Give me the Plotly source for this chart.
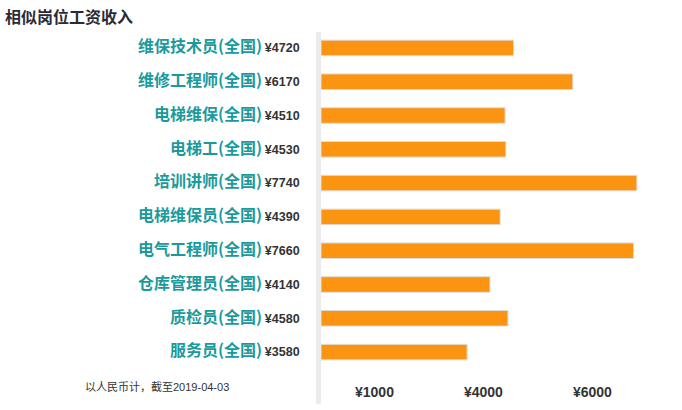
import plotly.graph_objects as go

categories = ["维保技术员(全国)", "维修工程师(全国)", "电梯维保(全国)", "电梯工(全国)", "培训讲师(全国)",
              "电梯维保员(全国)", "电气工程师(全国)", "仓库管理员(全国)", "质检员(全国)", "服务员(全国)"]
salaries = [4720, 6170, 4510, 4530, 7740, 4390, 7660, 4140, 4580, 3580]
tick_labels = ["¥1000", "¥4000", "¥6000"]
tick_positions = [1310, 3980, 6650]
title_text = "相似岗位工资收入"
note_text = "以人民币计，截至2019-04-03"

ML, MT, MB = 321, 31, 39
W, H = 682, 410
PW = 351
MR = W - ML - PW
PH = H - MT - MB

ticktext = [
    f"<b style='color:#1a9a9c;font-size:16px'>{c}</b> "
    f"<b style='color:#333333;font-size:12.5px;font-family:Liberation Sans, Arial, sans-serif'>¥{v}</b>"
    for c, v in zip(categories, salaries)
]

fig = go.Figure(go.Bar(
    x=salaries, y=categories, orientation="h",
    marker=dict(color="#FA9411", line=dict(color="#dddddd", width=1)),
    hoverinfo="x+y",
))

def px_x(p):
    return (p - ML) / PW

def px_y(p):
    return (H - MB - p) / PH

fig.update_layout(
    width=W, height=H,
    margin=dict(l=ML, r=MR, t=MT, b=MB),
    paper_bgcolor="white", plot_bgcolor="white",
    bargap=0.54,
    showlegend=False,
    font=dict(family="Noto Sans CJK SC, sans-serif", color="#333333"),
    xaxis=dict(range=[0, 8600], tickmode="array", tickvals=tick_positions,
               ticktext=[f"<b>{t}</b>" for t in tick_labels],
               showgrid=False, zeroline=False, showline=False,
               ticks="outside", ticklen=10, tickcolor="rgba(0,0,0,0)",
               tickfont=dict(size=14, color="#333333", family="Liberation Sans, Arial, sans-serif"),
               fixedrange=True),
    yaxis=dict(tickmode="array", tickvals=categories, ticktext=ticktext,
               autorange="reversed", showgrid=False, zeroline=False, showline=False,
               ticks="outside", ticklen=18, tickcolor="rgba(0,0,0,0)",
               tickfont=dict(family="Noto Sans CJK SC, sans-serif"),
               automargin=False, fixedrange=True),
    shapes=[dict(type="rect", xref="paper", yref="paper",
                 x0=px_x(316), x1=px_x(321), y0=px_y(406), y1=px_y(32),
                 fillcolor="#ebebeb", line=dict(width=0), layer="below")],
    annotations=[
        dict(text=f"<b>{title_text}</b>", xref="paper", yref="paper",
             x=px_x(3), y=px_y(16), xanchor="left", yanchor="middle", showarrow=False,
             font=dict(size=16, color="#2b2b38", family="Noto Sans CJK SC, sans-serif")),
        dict(text=note_text, xref="paper", yref="paper",
             x=px_x(231), y=px_y(389), xanchor="right", yanchor="middle", showarrow=False,
             font=dict(size=11, color="#333333", family="Liberation Sans, Noto Sans CJK SC, sans-serif")),
    ],
)

fig.write_html("out.html", config={"displayModeBar": False},
               post_script="document.body.style.margin='0';")
